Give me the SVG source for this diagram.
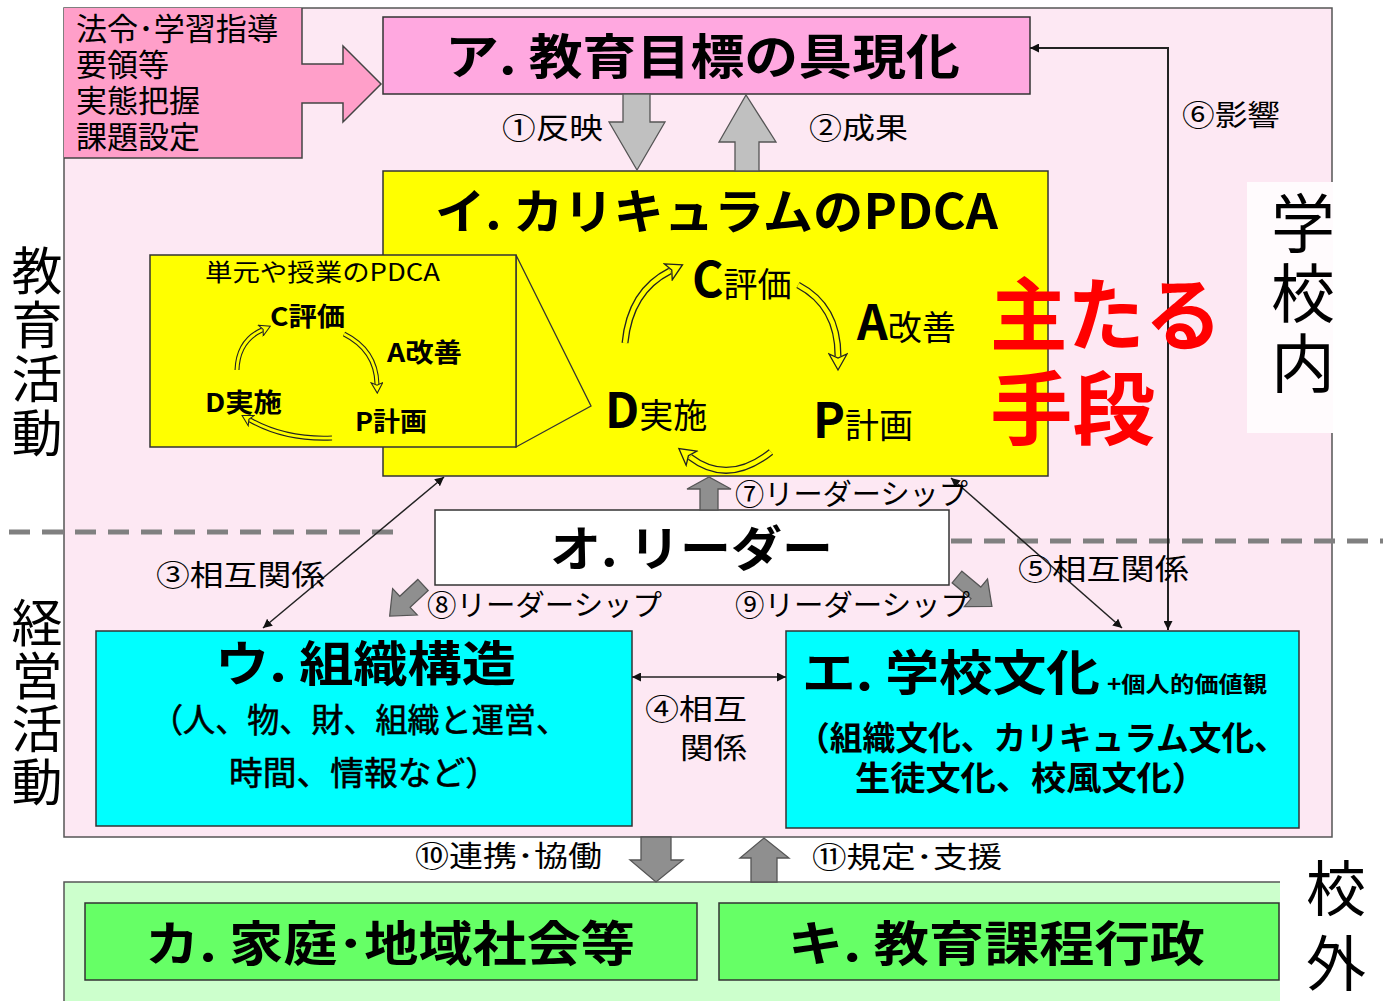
<svg xmlns="http://www.w3.org/2000/svg" width="1383" height="1001" viewBox="0 0 1383 1001">
<defs>
<style>
text{font-family:"Noto Sans CJK JP","Noto Sans CJK SC",sans-serif;fill:#000}
.b{font-weight:bold}
.lbl{font-size:29px}
.ttl{font-size:48px;font-weight:bold}
.box{stroke:#333;stroke-width:1.5}
.conn{stroke:#222;stroke-width:1.5;fill:none}
.blkL{fill:#c0c0c0;stroke:#555;stroke-width:1.3}
.blkD{fill:#8f8f8f;stroke:#555;stroke-width:1.3}
.hoOut{fill:none;stroke:#222;stroke-width:7}
.hoIn{fill:none;stroke:#ffff00;stroke-width:4.4}
.vt{writing-mode:vertical-rl;text-orientation:upright}
.tight{font-family:"Liberation Sans","Noto Sans CJK JP",sans-serif}
.note{font-size:31px}
</style>
<marker id="ah" viewBox="0 0 10 10" refX="10" refY="5" markerWidth="9" markerHeight="9" markerUnits="userSpaceOnUse" orient="auto-start-reverse">
<path d="M0,0 L10,5 L0,10 Z" fill="#111"/>
</marker>
<marker id="hh" viewBox="0 0 20 20" refX="4" refY="10" markerWidth="20" markerHeight="20" markerUnits="userSpaceOnUse" orient="auto">
<path d="M2,1 L18,10 L2,19 L6,10 Z" fill="#ffff00" stroke="#222" stroke-width="1.3"/>
</marker>
<marker id="hs" viewBox="0 0 20 20" refX="4" refY="10" markerWidth="13" markerHeight="13" markerUnits="userSpaceOnUse" orient="auto">
<path d="M2,1 L18,10 L2,19 L6,10 Z" fill="#ffff00" stroke="#222" stroke-width="1.6"/>
</marker>
<path id="blk" d="M0,-8 H26 V-19 L48,0 L26,19 V8 H0 Z"/>
</defs>

<rect x="0" y="0" width="1383" height="1001" fill="#ffffff"/>

<!-- school area -->
<g id="school">
<rect x="64" y="8" width="1268" height="829" fill="#fde8f3" stroke="#555" stroke-width="1.5"/>
</g>

<!-- outside area -->
<g id="outside">
<rect x="64" y="882" width="1216" height="125" fill="#ccffcc"/>
<path d="M64,1001 V882 H1280" fill="none" stroke="#555" stroke-width="1.5"/>
</g>

<!-- label 学校内 -->
<g id="label-inside">
<rect x="1247" y="182" width="86" height="251" fill="#fffbfd"/>
<text class="vt" x="1303" y="191" font-size="64" letter-spacing="6">学校内</text>
</g>

<g id="label-outside">
<text class="vt" x="1336" y="858" font-size="60">校</text>
<text class="vt" x="1336" y="933" font-size="60">外</text>
</g>

<g id="label-edu">
<text class="vt" x="37" y="245" font-size="51" letter-spacing="3">教育活動</text>
</g>
<g id="label-mgmt">
<text class="vt" x="37" y="597" font-size="51" letter-spacing="2">経営活動</text>
</g>

<!-- dashed separators -->
<g id="separators" stroke="#808080" stroke-width="5" stroke-dasharray="21 12" fill="none">
<line x1="9" y1="532" x2="402" y2="532"/>
<line x1="951" y1="541" x2="1383" y2="541"/>
</g>

<!-- note box -->
<g id="note">
<polygon points="64,8 302,8 302,64 343,64 343,46 381,84 343,122 343,103 302,103 302,158 64,158" fill="#ff9fc9"/>
<polyline points="64,158 302,158 302,103 343,103 343,122 381,84 343,46 343,64 302,64 302,8" fill="none" stroke="#444" stroke-width="1.5"/>
<text class="tight note" x="76" y="40" textLength="202" lengthAdjust="spacingAndGlyphs">法令･学習指導</text>
<text class="tight note" x="76" y="76">要領等</text>
<text class="tight note" x="76" y="112">実態把握</text>
<text class="tight note" x="76" y="148">課題設定</text>
</g>

<!-- ア -->
<g id="node-a">
<rect class="box" x="383" y="17" width="647" height="77" fill="#ffa8e0"/>
<text class="ttl" x="445" y="74" textLength="515" lengthAdjust="spacingAndGlyphs">ア. 教育目標の具現化</text>
</g>

<!-- イ -->
<g id="node-i">
<rect class="box" x="383" y="171" width="665" height="305" fill="#ffff00"/>
<text class="ttl" x="435" y="229" textLength="563" lengthAdjust="spacingAndGlyphs">イ. カリキュラムのPDCA</text>
<g id="pdca-big">
<path class="hoOut" d="M625,343 Q630,291 670,271"/>
<path class="hoIn" d="M625,343 Q630,291 670,271" marker-end="url(#hh)"/>
<path class="hoOut" d="M798,285 Q838,306 838,356"/>
<path class="hoIn" d="M798,285 Q838,306 838,356" marker-end="url(#hh)"/>
<path class="hoOut" d="M771,452 Q728,486 690,457"/>
<path class="hoIn" d="M771,452 Q728,486 690,457" marker-end="url(#hh)"/>
<text x="692" y="297"><tspan class="b" font-size="48">C</tspan><tspan font-size="34">評価</tspan></text>
<text x="857" y="340"><tspan class="b" font-size="48">A</tspan><tspan font-size="34">改善</tspan></text>
<text x="605" y="428"><tspan class="b" font-size="48">D</tspan><tspan font-size="34">実施</tspan></text>
<text x="813" y="438"><tspan class="b" font-size="48">P</tspan><tspan font-size="34">計画</tspan></text>
</g>
</g>

<!-- small PDCA callout -->
<g id="node-unit-pdca">
<polygon points="516,255 591,406 516,447" fill="#ffff00" stroke="#333" stroke-width="1.3"/>
<rect class="box" x="150" y="255" width="366" height="192" fill="#ffff00"/>
<text x="205" y="281" font-size="24" textLength="235" lengthAdjust="spacingAndGlyphs">単元や授業のPDCA</text>
<path class="hoOut" style="stroke-width:5" d="M237,370 Q238,341 262,330"/>
<path class="hoIn" style="stroke-width:2.8" d="M237,370 Q238,341 262,330" marker-end="url(#hs)"/>
<path class="hoOut" style="stroke-width:5" d="M344,334 Q376,350 377,384"/>
<path class="hoIn" style="stroke-width:2.8" d="M344,334 Q376,350 377,384" marker-end="url(#hs)"/>
<path class="hoOut" style="stroke-width:5" d="M332,438 Q285,440 250,420"/>
<path class="hoIn" style="stroke-width:2.8" d="M332,438 Q285,440 250,420" marker-end="url(#hs)"/>
<text class="b" x="270" y="326" font-size="26" textLength="75" lengthAdjust="spacingAndGlyphs">C評価</text>
<text class="b" x="387" y="362" font-size="26" textLength="75" lengthAdjust="spacingAndGlyphs">A改善</text>
<text class="b" x="205" y="412" font-size="26" textLength="77" lengthAdjust="spacingAndGlyphs">D実施</text>
<text class="b" x="355" y="431" font-size="26" textLength="72" lengthAdjust="spacingAndGlyphs">P計画</text>
</g>

<!-- オ -->
<g id="node-o">
<rect class="box" x="435" y="510" width="514" height="75" fill="#ffffff"/>
<text class="ttl" x="550" y="566" textLength="283" lengthAdjust="spacingAndGlyphs">オ. リーダー</text>
</g>

<!-- ウ -->
<g id="node-u">
<rect class="box" x="96" y="631" width="536" height="195" fill="#00ffff"/>
<text class="ttl" x="215" y="681" textLength="301" lengthAdjust="spacingAndGlyphs">ウ. 組織構造</text>
<text class="tight" x="151" y="732" font-size="33" stroke="#000" stroke-width="0.6" textLength="417" lengthAdjust="spacingAndGlyphs">（人、物、財、組織と運営、</text>
<text class="tight" x="229" y="785" font-size="33" stroke="#000" stroke-width="0.6" textLength="270" lengthAdjust="spacingAndGlyphs">時間、情報など）</text>
</g>

<!-- エ -->
<g id="node-e">
<rect class="box" x="786" y="631" width="513" height="197" fill="#00ffff"/>
<text class="ttl" x="802" y="690" textLength="298" lengthAdjust="spacingAndGlyphs">エ. 学校文化</text>
<text class="b" x="1107" y="692" font-size="22" textLength="160" lengthAdjust="spacingAndGlyphs">+個人的価値観</text>
<text class="b tight" x="797" y="750" font-size="33" textLength="490" lengthAdjust="spacingAndGlyphs">（組織文化、カリキュラム文化、</text>
<text class="b tight" x="855" y="790" font-size="33" textLength="352" lengthAdjust="spacingAndGlyphs">生徒文化、校風文化）</text>
</g>

<!-- カ -->
<g id="node-ka">
<rect class="box" x="85" y="903" width="612" height="77" fill="#66ff66"/>
<text class="ttl" x="145" y="961" textLength="490" lengthAdjust="spacingAndGlyphs">カ. 家庭･地域社会等</text>
</g>

<!-- キ -->
<g id="node-ki">
<rect class="box" x="719" y="903" width="560" height="77" fill="#66ff66"/>
<text class="ttl" x="788" y="961" textLength="417" lengthAdjust="spacingAndGlyphs">キ. 教育課程行政</text>
</g>

<!-- connectors -->
<g id="connectors">
<polygon class="blkL" points="623,94 650,94 650,122 665,122 637,170 609,122 623,122"/>
<polygon class="blkL" points="735,171 759,171 759,142 776,142 746,95 719,142 735,142"/>
<polygon class="blkD" points="700,510 718,510 718,489 731,489 709,477 687,489 700,489"/>
<use href="#blk" class="blkD" transform="translate(423,585) rotate(137) scale(0.95)"/>
<use href="#blk" class="blkD" transform="translate(957,577) rotate(40) scale(0.95)"/>
<polygon class="blkD" points="641,837 671,837 671,860 683,860 656,882 630,860 641,860"/>
<polygon class="blkD" points="751,882 777,882 777,858 789,858 764,838 740,858 751,858"/>
<line class="conn" x1="444" y1="477" x2="263" y2="628" marker-start="url(#ah)" marker-end="url(#ah)"/>
<line class="conn" x1="951" y1="478" x2="1122" y2="628" marker-start="url(#ah)" marker-end="url(#ah)"/>
<line class="conn" x1="632" y1="677" x2="786" y2="677" marker-start="url(#ah)" marker-end="url(#ah)"/>
<polyline class="conn" style="stroke-width:2" points="1168,630 1168,48 1030,48" marker-start="url(#ah)" marker-end="url(#ah)"/>
</g>

<!-- connector labels -->
<g id="labels">
<text class="lbl" x="502" y="139" textLength="101" lengthAdjust="spacingAndGlyphs">①反映</text>
<text class="lbl" x="809" y="139" textLength="99" lengthAdjust="spacingAndGlyphs">②成果</text>
<text class="lbl" x="1182" y="126" textLength="98" lengthAdjust="spacingAndGlyphs">⑥影響</text>
<text class="lbl" x="735" y="505" textLength="233" lengthAdjust="spacingAndGlyphs">⑦リーダーシップ</text>
<text class="lbl" x="156" y="586" textLength="169" lengthAdjust="spacingAndGlyphs">③相互関係</text>
<text class="lbl" x="1018" y="580" textLength="171" lengthAdjust="spacingAndGlyphs">⑤相互関係</text>
<text class="lbl" x="427" y="616" textLength="235" lengthAdjust="spacingAndGlyphs">⑧リーダーシップ</text>
<text class="lbl" x="735" y="616" textLength="235" lengthAdjust="spacingAndGlyphs">⑨リーダーシップ</text>
<text class="lbl"><tspan x="645" y="720" textLength="102" lengthAdjust="spacingAndGlyphs">④相互</tspan><tspan x="680" y="759" textLength="67" lengthAdjust="spacingAndGlyphs">関係</tspan></text>
<text class="lbl" x="415" y="867" font-size="28" textLength="187" lengthAdjust="spacingAndGlyphs">⑩連携･協働</text>
<text class="lbl" x="812" y="868" font-size="28" textLength="190" lengthAdjust="spacingAndGlyphs">⑪規定･支援</text>
</g>

<!-- main means -->
<g id="main-means">
<text class="b tight" x="990" y="344" font-size="80" style="fill:#ff0000" textLength="232" lengthAdjust="spacingAndGlyphs">主たる</text>
<text class="b tight" x="990" y="438" font-size="80" style="fill:#ff0000" textLength="165" lengthAdjust="spacingAndGlyphs">手段</text>
</g>
</svg>
